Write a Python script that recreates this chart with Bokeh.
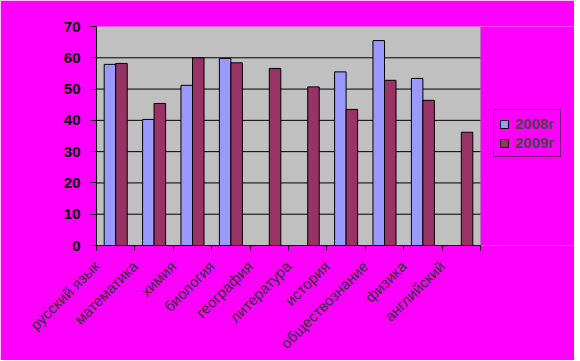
import math
from bokeh.plotting import figure
from bokeh.models import (ColumnDataSource, Range1d, FixedTicker, Legend, LegendItem,
                          BoxAnnotation)
from bokeh.embed import file_html
from bokeh.resources import INLINE

categories = ["русский язык", "математика", "химия", "биология", "география",
              "литература", "история", "обществознание", "физика", "английский"]
series_names = ["2008г", "2009г"]
values_2008 = [57.9, 40.3, 51.2, 59.8, None, None, 55.5, 65.5, 53.4, None]
values_2009 = [58.2, 45.4, 60.0, 58.4, 56.6, 50.7, 43.5, 52.8, 46.4, 36.2]
y_ticks = [0, 10, 20, 30, 40, 50, 60, 70]
colors = ["#9999FF", "#993366"]

W = 574
LEFT, TOP, BOTTOM = 96, 26, 110
FRAME_W, FRAME_H = W - LEFT, 219
PLOT_W = 384  # width of the grey plotting area in pixels
n = len(categories)
# the frame extends to the right edge so the legend can sit inside it
x_end = n * FRAME_W / PLOT_W

p = figure(frame_width=FRAME_W, frame_height=FRAME_H, output_backend="svg",
           toolbar_location=None,
           x_range=Range1d(0, x_end), y_range=Range1d(y_ticks[0], y_ticks[-1]),
           min_border_left=LEFT, min_border_top=TOP, min_border_right=0,
           min_border_bottom=BOTTOM)
p.background_fill_color = "#FF00FF"
p.border_fill_color = "#FF00FF"
p.outline_line_color = None

# grey plot area
area = BoxAnnotation(left=0, right=n, bottom=y_ticks[0], top=y_ticks[-1],
                     fill_color="#C0C0C0", fill_alpha=1,
                     line_color="#808080", line_width=1, level="underlay")
p.add_layout(area)

# horizontal grid lines
inner = y_ticks[1:-1]
p.segment(x0=[0] * len(inner), x1=[n] * len(inner), y0=inner, y1=inner,
          line_color="black", line_width=1)

renderers = []
for vals, off, col in ((values_2008, -0.15, colors[0]), (values_2009, 0.15, colors[1])):
    xs = [i + 0.5 + off for i, v in enumerate(vals) if v is not None]
    tops = [v for v in vals if v is not None]
    src = ColumnDataSource(dict(x=xs, top=tops))
    r = p.vbar(x="x", top="top", width=0.3, bottom=0, source=src,
               fill_color=col, line_color="black", line_width=1)
    renderers.append(r)

# axes
p.xaxis.bounds = (0, n)
p.xaxis.ticker = FixedTicker(ticks=list(range(n + 1)))
p.xaxis.major_label_overrides = {i: (categories[i] if i < n else "")
                                 for i in range(n + 1)}
p.xaxis.major_label_orientation = math.pi / 4
p.xaxis.major_label_text_font = "Liberation Sans"
p.xaxis.major_label_text_font_size = "15px"
p.xaxis.major_label_text_color = "#303030"
p.xaxis.major_label_standoff = 13
p.xaxis.major_tick_in = 0
p.xaxis.major_tick_out = 5
p.xaxis.minor_tick_line_color = None
p.xaxis.axis_line_color = "black"

p.yaxis.ticker = FixedTicker(ticks=y_ticks)
p.yaxis.major_label_text_font = "Liberation Sans"
p.yaxis.major_label_text_font_style = "bold"
p.yaxis.major_label_text_font_size = "15px"
p.yaxis.major_label_text_color = "black"
p.yaxis.major_label_standoff = 10
p.yaxis.major_tick_in = 0
p.yaxis.major_tick_out = 6
p.yaxis.minor_tick_line_color = None
p.yaxis.axis_line_color = "black"

p.xgrid.grid_line_color = None
p.ygrid.grid_line_color = None

legend = Legend(items=[LegendItem(label=series_names[0], renderers=[renderers[0]]),
                       LegendItem(label=series_names[1], renderers=[renderers[1]])],
                location=(397, 88), margin=0)
legend.background_fill_color = "#FF00FF"
legend.background_fill_alpha = 1
legend.border_line_color = "black"
legend.label_text_font = "Liberation Sans"
legend.label_text_font_style = "bold"
legend.label_text_font_size = "15px"
legend.glyph_width = 10
legend.glyph_height = 10
legend.label_height = 14
legend.spacing = 2
legend.padding = 5
legend.label_standoff = 6
p.add_layout(legend, "center")

open("out.html", "w").write(file_html(p, INLINE))
